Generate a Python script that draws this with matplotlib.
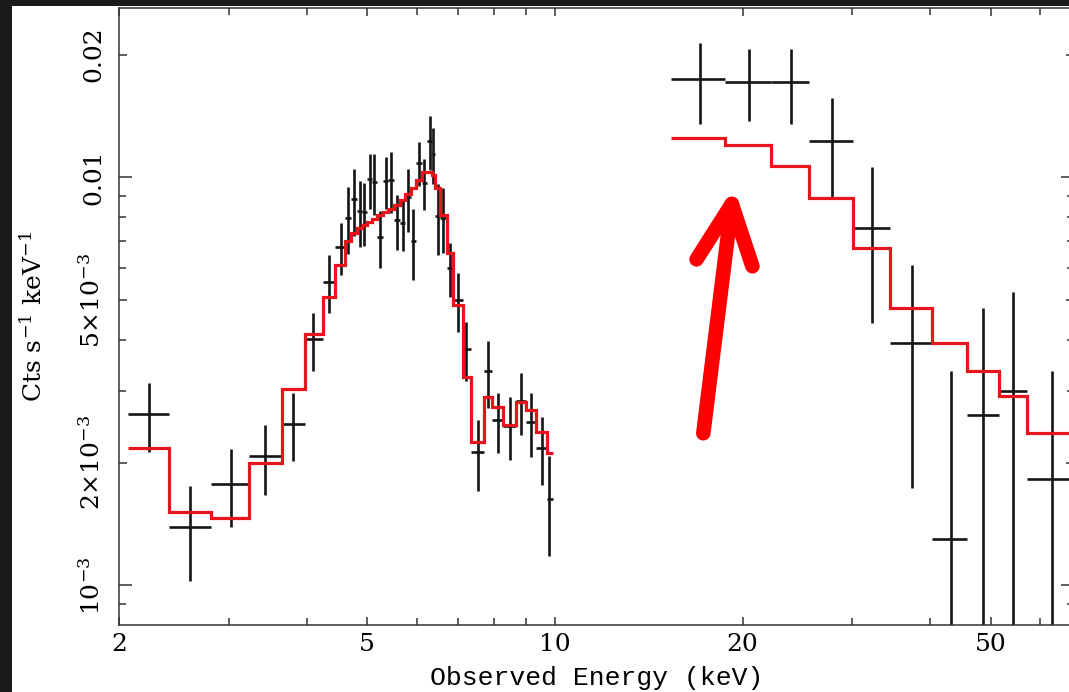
import numpy as np
import matplotlib.pyplot as plt
from matplotlib.patches import Rectangle
from matplotlib.ticker import FixedLocator, FixedFormatter, NullFormatter

plt.rcParams['font.family'] = 'DejaVu Serif'
plt.rcParams['mathtext.fontset'] = 'dejavuserif'

# 2-10 keV spectrum: bin edges, centres, rate and 1 sigma error (Cts/s/keV), folded model
soft_edges = [2.070, 2.403, 2.809, 3.232, 3.650, 3.974, 4.244, 4.441, 4.600, 4.716,
              4.819, 4.909, 5.000, 5.093, 5.191, 5.305, 5.410, 5.518, 5.639, 5.760,
              5.874, 5.992, 6.115, 6.240, 6.344, 6.435, 6.555, 6.706, 6.864, 7.115,
              7.328, 7.705, 7.936, 8.264, 8.663, 8.989, 9.316, 9.703, 9.942]
soft_e = [2.237, 2.599, 3.020, 3.433, 3.806, 4.099, 4.348, 4.535, 4.664, 4.769,
          4.870, 4.948, 5.053, 5.134, 5.249, 5.361, 5.460, 5.577, 5.701, 5.820,
          5.929, 6.055, 6.175, 6.306, 6.383, 6.488, 6.623, 6.789, 6.985, 7.202,
          7.520, 7.820, 8.115, 8.473, 8.815, 9.146, 9.525, 9.796]
soft_rate = [2.627, 1.390, 1.772, 2.073, 2.493, 4.006, 5.544, 6.758, 7.961, 8.849,
             8.268, 8.236, 9.888, 9.755, 7.151, 9.794, 9.849, 7.859, 7.714, 8.934,
             6.979, 10.859, 9.700, 12.277, 11.424, 8.024, 7.961, 6.000, 5.001, 3.799,
             2.124, 3.355, 2.540, 2.465, 2.831, 2.516, 2.172, 1.625]
soft_err = [0.509, 0.365, 0.385, 0.405, 0.476, 0.645, 0.905, 0.980, 1.483, 1.656,
            1.510, 1.466, 1.546, 1.683, 1.140, 1.412, 1.667, 1.209, 1.115, 1.576,
            1.375, 1.341, 1.365, 1.831, 1.778, 1.586, 1.436, 0.897, 0.819, 0.633,
            0.423, 0.626, 0.430, 0.439, 0.494, 0.454, 0.408, 0.446]
soft_model = [2.175, 1.516, 1.462, 1.995, 3.038, 4.121, 5.095, 6.092, 6.979, 7.301,
              7.512, 7.638, 7.771, 7.904, 8.084, 8.222, 8.362, 8.554, 8.799, 9.103,
              9.414, 9.849, 10.304, 10.304, 10.131, 9.414, 8.084, 6.522, 4.862, 3.238,
              2.243, 2.892, 2.733, 2.469, 2.816, 2.687, 2.377, 2.117]

# hard X-ray spectrum
hard_edges = [15.33, 18.77, 22.18, 25.55, 30.05, 34.52, 40.23, 45.88, 51.56, 57.13, 68.9]
hard_e = [17.08, 20.47, 23.88, 27.78, 32.27, 37.41, 43.11, 48.63, 54.19, 62.72]
hard_rate = [17.423, 17.160, 17.102, 12.277, 7.499, 3.917, 1.299, 2.623, 2.997, 1.820]
hard_err = [3.940, 3.448, 3.564, 3.329, 3.109, 2.188, 2.056, 2.149, 2.244, 1.530]
hard_model = [12.466, 12.003, 10.677, 8.914, 6.697, 4.772, 3.917, 3.349, 2.909, 2.369]

xticks = [2, 5, 10, 20, 50]
xminor = [3, 4, 6, 7, 8, 9, 30, 40, 60]
yticks = [1e-3, 2e-3, 5e-3, 1e-2, 2e-2]
ytick_labels = [r'$10^{-3}$', r'$2{\times}10^{-3}$', r'$5{\times}10^{-3}$', '0.01', '0.02']
yminor = [9e-4, 3e-3, 4e-3, 6e-3, 7e-3, 8e-3, 9e-3]

fig = plt.figure(figsize=(10.69, 6.92), dpi=100)
fig.patch.set_facecolor('#1a1a1a')
fig.patches.append(Rectangle((12/1069, 0), 1, 1 - 6/692, transform=fig.transFigure,
                             facecolor='white', edgecolor='none', zorder=-5))
ax = fig.add_axes([119/1069, 67/692, 955/1069, 617/692])
ax.set_zorder(1)

def plot_spec(edges, e, rate, err, model):
    edges = np.array(edges)
    e = np.array(e)
    rate = np.array(rate) * 1e-3
    err = np.array(err) * 1e-3
    model = np.array(model) * 1e-3
    lo = rate - np.clip(rate - err, 1e-6, None)
    ax.errorbar(e, rate, yerr=[lo, err], xerr=[e - edges[:-1], edges[1:] - e],
                fmt='none', ecolor='#151515', elinewidth=1.9, capsize=0, zorder=2)
    ax.stairs(model, edges, baseline=None, color='#e8141c', lw=2.3, zorder=3)

plot_spec(soft_edges, soft_e, soft_rate, soft_err, soft_model)
plot_spec(hard_edges, hard_e, hard_rate, hard_err, hard_model)

ax.set_xscale('log')
ax.set_yscale('log')
ax.set_xlim(2, 68)
ax.set_ylim(8e-4, 0.026)

ax.xaxis.set_major_locator(FixedLocator(xticks))
ax.xaxis.set_major_formatter(FixedFormatter([str(t) for t in xticks]))
ax.xaxis.set_minor_locator(FixedLocator(xminor))
ax.xaxis.set_minor_formatter(NullFormatter())
ax.yaxis.set_major_locator(FixedLocator(yticks))
ax.yaxis.set_major_formatter(FixedFormatter(ytick_labels))
ax.yaxis.set_minor_locator(FixedLocator(yminor))
ax.yaxis.set_minor_formatter(NullFormatter())

ax.tick_params(which='both', direction='in', top=True, right=True, width=1.1, color='#333333')
ax.tick_params(which='major', length=5.8, labelsize=18)
ax.tick_params(which='minor', length=5.0)
ax.tick_params(axis='x', pad=6)
ax.tick_params(axis='y', pad=10, labelrotation=90)
for lab in ax.get_yticklabels():
    lab.set_va('center')

# decade ticks are longer
for t in ax.yaxis.get_major_ticks() + ax.xaxis.get_major_ticks():
    if np.isclose(np.log10(t.get_loc()) % 1, 0) or np.isclose(np.log10(t.get_loc()) % 1, 1):
        t.tick1line.set_markersize(9.4)
        t.tick2line.set_markersize(9.4)

for s in ax.spines.values():
    s.set_color('#333333')
    s.set_linewidth(1.1)

ax.set_xlabel('Observed Energy (keV)', family='Liberation Mono', fontsize=19)
ax.xaxis.set_label_coords(0.5, -0.066)
ax.set_ylabel(r'Cts s$^{-1}$ keV$^{-1}$', fontsize=18)
ax.yaxis.set_label_coords(-0.076, 0.5)

ax.annotate('', xy=(19.37, 0.00947), xytext=(17.3, 0.00236),
            arrowprops=dict(arrowstyle='->,head_length=0.95,head_width=0.45',
                            color='#ff0000', lw=10.5, mutation_scale=45,
                            shrinkA=0, shrinkB=0, capstyle='round', joinstyle='round'))

plt.savefig('out.png', dpi=100, facecolor=fig.get_facecolor())
